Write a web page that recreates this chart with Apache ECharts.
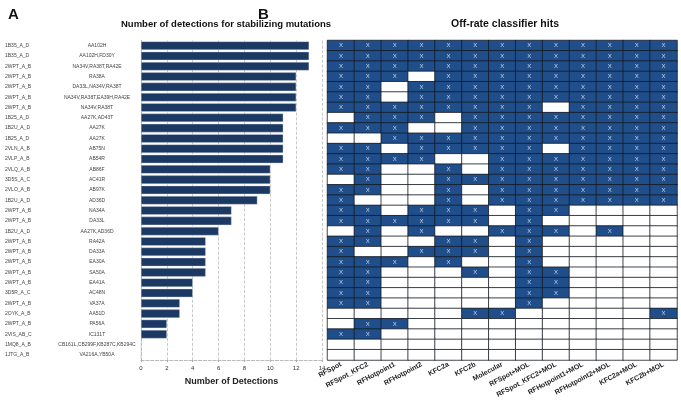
<!DOCTYPE html>
<html>
<head>
<meta charset="utf-8">
<script src="https://cdn.jsdelivr.net/npm/echarts@6/dist/echarts.min.js"></script>
<style>
  html, body { margin: 0; padding: 0; background: #fff; }
  #chart { width: 681px; height: 405px; }
</style>
</head>
<body>
<div id="chart"></div>
<script>
// rows, top to bottom
const pdbIds = ['1B35_A_D', '1B35_A_D', '2WPT_A_B', '2WPT_A_B', '2WPT_A_B', '2WPT_A_B', '2WPT_A_B',
  '1B25_A_D', '1B2U_A_D', '1B25_A_D', '2VLN_A_B', '2VLP_A_B', '2VLQ_A_B', '3D5S_A_C', '2VLO_A_B',
  '1B2U_A_D', '2WPT_A_B', '2WPT_A_B', '1B2U_A_D', '2WPT_A_B', '2WPT_A_B', '2WPT_A_B', '2WPT_A_B',
  '2WPT_A_B', '3D5R_A_C', '2WPT_A_B', '2OYK_A_B', '2WPT_A_B', '2VIS_AB_C', '1MQ8_A_B', '1JTG_A_B']
const mutations = ['AA102H', 'AA102H,FD30Y', 'NA34V,RA38T,RA42E', 'RA38A', 'DA33L,NA34V,RA38T',
  'NA34V,RA38T,EA39H,RA42E', 'NA34V,RA38T', 'AA27K,AD43T', 'AA27K', 'AA27K', 'AB75N', 'AB54R',
  'AB86F', 'AC41R', 'AB97K', 'AD36D', 'NA34A', 'DA33L', 'AA27K,AD36D', 'RA42A', 'DA33A', 'EA30A',
  'SA50A', 'EA41A', 'AC48N', 'VA37A', 'AA51D', 'PA56A', 'IC131T', 'CB161L,CB299F,KB287C,KB294C',
  'VA216A,YB50A']
const detections = [13, 13, 13, 12, 12, 12, 12, 11, 11, 11, 11, 11, 10, 10, 10, 9, 7, 7, 6, 5, 5, 5, 5,
  4, 4, 3, 3, 2, 2, 0, 0]
const detectionTicks = [0, 2, 4, 6, 8, 10, 12, 14]

const classifiers = ['RFSpot', 'RFSpot_KFC2', 'RFHotpoint1', 'RFHotpoint2', 'KFC2a', 'KFC2b', 'Molecular',
  'RFSpot+MOL', 'RFSpot_KFC2+MOL', 'RFHotpoint1+MOL', 'RFHotpoint2+MOL', 'KFC2a+MOL', 'KFC2b+MOL']
// 1 = hit (X), 0 = no hit; one row per mutation, same order as above
const hits = [
  [1, 1, 1, 1, 1, 1, 1, 1, 1, 1, 1, 1, 1],
  [1, 1, 1, 1, 1, 1, 1, 1, 1, 1, 1, 1, 1],
  [1, 1, 1, 1, 1, 1, 1, 1, 1, 1, 1, 1, 1],
  [1, 1, 1, 0, 1, 1, 1, 1, 1, 1, 1, 1, 1],
  [1, 1, 0, 1, 1, 1, 1, 1, 1, 1, 1, 1, 1],
  [1, 1, 0, 1, 1, 1, 1, 1, 1, 1, 1, 1, 1],
  [1, 1, 1, 1, 1, 1, 1, 1, 0, 1, 1, 1, 1],
  [0, 1, 1, 1, 0, 1, 1, 1, 1, 1, 1, 1, 1],
  [1, 1, 1, 0, 0, 1, 1, 1, 1, 1, 1, 1, 1],
  [0, 0, 1, 1, 1, 1, 1, 1, 1, 1, 1, 1, 1],
  [1, 1, 0, 1, 1, 1, 1, 1, 0, 1, 1, 1, 1],
  [1, 1, 1, 1, 0, 0, 1, 1, 1, 1, 1, 1, 1],
  [1, 1, 0, 0, 1, 0, 1, 1, 1, 1, 1, 1, 1],
  [0, 1, 0, 0, 1, 1, 1, 1, 1, 1, 1, 1, 1],
  [1, 1, 0, 0, 1, 0, 1, 1, 1, 1, 1, 1, 1],
  [1, 0, 0, 0, 1, 0, 1, 1, 1, 1, 1, 1, 1],
  [1, 1, 0, 1, 1, 1, 0, 1, 1, 0, 0, 0, 0],
  [1, 1, 1, 1, 1, 1, 0, 1, 0, 0, 0, 0, 0],
  [0, 1, 0, 1, 0, 0, 1, 1, 1, 0, 1, 0, 0],
  [1, 1, 0, 0, 1, 1, 0, 1, 0, 0, 0, 0, 0],
  [1, 0, 0, 1, 1, 1, 0, 1, 0, 0, 0, 0, 0],
  [1, 1, 1, 0, 1, 0, 0, 1, 0, 0, 0, 0, 0],
  [1, 1, 0, 0, 0, 1, 0, 1, 1, 0, 0, 0, 0],
  [1, 1, 0, 0, 0, 0, 0, 1, 1, 0, 0, 0, 0],
  [1, 1, 0, 0, 0, 0, 0, 1, 1, 0, 0, 0, 0],
  [1, 1, 0, 0, 0, 0, 0, 1, 0, 0, 0, 0, 0],
  [0, 0, 0, 0, 0, 1, 1, 0, 0, 0, 0, 0, 1],
  [0, 1, 1, 0, 0, 0, 0, 0, 0, 0, 0, 0, 0],
  [1, 1, 0, 0, 0, 0, 0, 0, 0, 0, 0, 0, 0],
  [0, 0, 0, 0, 0, 0, 0, 0, 0, 0, 0, 0, 0],
  [0, 0, 0, 0, 0, 0, 0, 0, 0, 0, 0, 0, 0]
]

const rowKeys = pdbIds.map((id, i) => String(i))
const hitCells = []
hits.forEach((row, r) => row.forEach((v, c) => hitCells.push([c, r, v])))

const titleFont = '"Liberation Sans", Arial, sans-serif'

let myChart = echarts.init(document.getElementById('chart'))
let option = {
  animation: false,
  textStyle: { fontFamily: '"Liberation Sans", Arial, sans-serif' },
  title: [
    { text: 'A', left: 3, top: 2, textStyle: { fontSize: 15, fontWeight: 'bold', color: '#111', fontFamily: titleFont } },
    { text: 'B', left: 253, top: 2, textStyle: { fontSize: 15, fontWeight: 'bold', color: '#111', fontFamily: titleFont } },
    { text: 'Number of detections for stabilizing mutations', left: 221, top: 14, textAlign: 'center',
      textStyle: { fontSize: 9.5, fontWeight: 'bold', color: '#111', fontFamily: titleFont } },
    { text: 'Off-rate classifier hits', left: 500, top: 14, textAlign: 'center',
      textStyle: { fontSize: 10.5, fontWeight: 'bold', color: '#111', fontFamily: titleFont } }
  ],
  grid: [
    { left: 141, right: 359, top: 40.5, bottom: 45 },
    { left: 327.5, right: 4, top: 40.5, bottom: 45 }
  ],
  xAxis: [
    {
      gridIndex: 0,
      type: 'value',
      min: detectionTicks[0],
      max: detectionTicks[detectionTicks.length - 1],
      interval: 2,
      name: 'Number of Detections',
      nameLocation: 'middle',
      nameGap: 17,
      nameTextStyle: { fontSize: 9, fontWeight: 'bold', color: '#222', fontFamily: 'Arial, "Liberation Sans", sans-serif' },
      axisLine: { show: true, lineStyle: { color: '#aaa', type: 'dashed', width: 0.8 } },
      axisTick: { show: true, length: 2, lineStyle: { color: '#aaa' } },
      axisLabel: { fontSize: 6, color: '#333', margin: 5 },
      splitLine: { show: true, lineStyle: { color: '#bbb', type: 'dashed', width: 0.8 } }
    },
    {
      gridIndex: 1,
      type: 'category',
      data: classifiers,
      axisLine: { show: false },
      axisTick: { show: false },
      splitLine: { show: false },
      axisLabel: { interval: 0, rotate: 28, fontSize: 7, fontWeight: 'bold', color: '#222', margin: 4 }
    }
  ],
  yAxis: [
    {
      gridIndex: 0,
      type: 'category',
      inverse: true,
      data: rowKeys,
      axisLine: { show: true, lineStyle: { color: '#aaa', type: 'dashed', width: 0.8 } },
      axisTick: { show: false },
      axisLabel: {
        interval: 0,
        margin: 4,
        formatter: (v, i) => '{a|' + pdbIds[i] + '}{b|' + mutations[i] + '}',
        rich: {
          a: { width: 52, align: 'left', fontSize: 5, color: '#444' },
          b: { width: 80, align: 'center', fontSize: 5, color: '#444' }
        }
      }
    },
    {
      gridIndex: 1,
      type: 'category',
      inverse: true,
      data: rowKeys,
      axisLine: { show: false },
      axisTick: { show: false },
      axisLabel: { show: false }
    }
  ],
  visualMap: {
    type: 'piecewise',
    show: false,
    seriesIndex: 1,
    dimension: 2,
    pieces: [
      { value: 1, color: '#1f4e8b' },
      { value: 0, color: '#ffffff' }
    ]
  },
  series: [
    {
      name: 'Detections',
      type: 'bar',
      xAxisIndex: 0,
      yAxisIndex: 0,
      data: detections,
      barWidth: '82%',
      itemStyle: { color: '#1c3963', borderColor: '#d0d6e0', borderWidth: 0.4 }
    },
    {
      name: 'Hits',
      type: 'heatmap',
      xAxisIndex: 1,
      yAxisIndex: 1,
      data: hitCells,
      itemStyle: { borderColor: '#151a22', borderWidth: 0.8 },
      label: {
        show: true,
        formatter: p => (p.value[2] ? 'X' : ''),
        fontSize: 6,
        color: '#c9d5e8'
      },
      emphasis: { disabled: true }
    }
  ]
}
option && myChart.setOption(option)
window.addEventListener('resize', () => { myChart.resize() })
</script>
</body>
</html>
